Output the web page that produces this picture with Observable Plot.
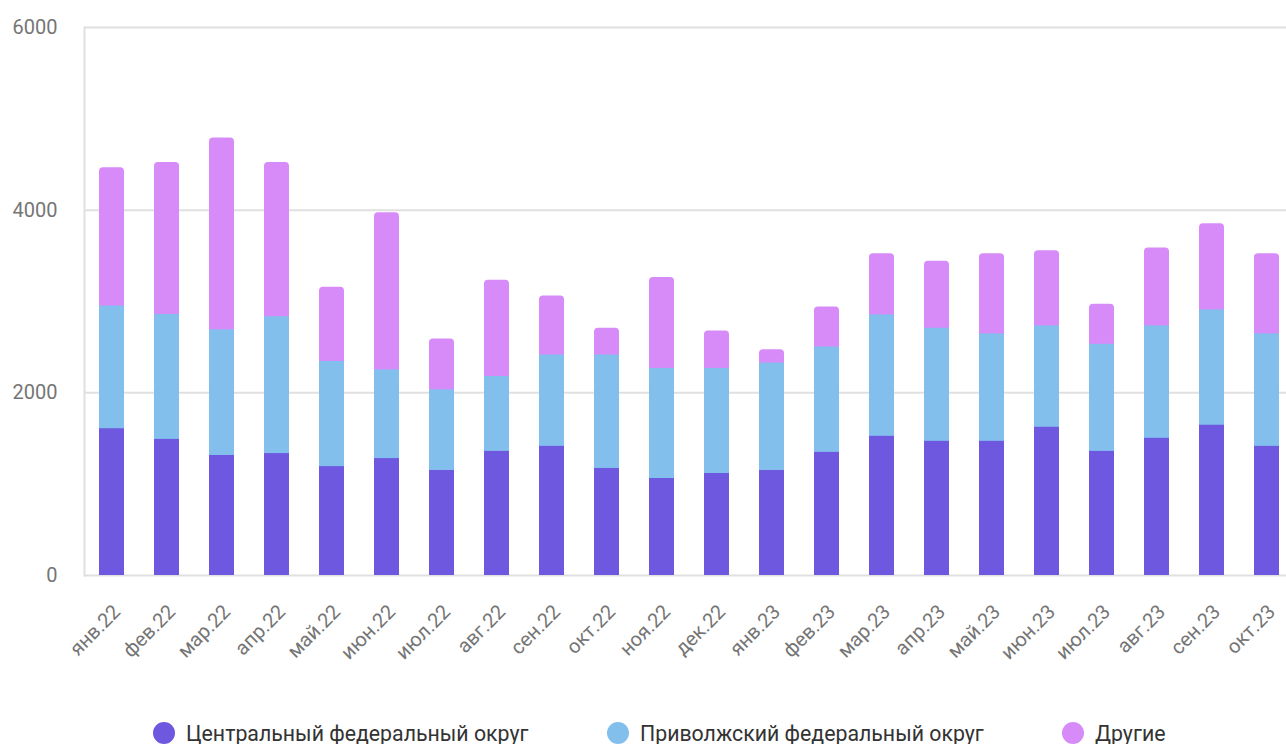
<!DOCTYPE html>
<html>
<head>
<meta charset="utf-8">
<script src="https://cdn.jsdelivr.net/npm/d3@7"></script>
<script src="https://cdn.jsdelivr.net/npm/@observablehq/plot@0.6"></script>
<style>
  html, body { margin: 0; padding: 0; background: #fff; }
  #chart svg { display: block; }
  .legend { position: relative; margin-top: 42px; height: 22px;
            font-family: Roboto, sans-serif; font-size: 21.3px; color: #333; }
  .legend .item { position: absolute; top: 0; display: flex; align-items: center; height: 22px; white-space: nowrap; }
  .legend .dot { width: 22px; height: 22px; border-radius: 50%; margin-right: 11px; flex: none; }
</style>
</head>
<body>
<div id="chart"></div>
<script>
const months = ["янв.22","фев.22","мар.22","апр.22","май.22","июн.22","июл.22","авг.22","сен.22","окт.22","ноя.22","дек.22","янв.23","фев.23","мар.23","апр.23","май.23","июн.23","июл.23","авг.23","сен.23","окт.23"];
const central = [1607,1490,1314,1335,1192,1280,1150,1359,1414,1172,1062,1117,1150,1348,1524,1469,1469,1623,1359,1502,1645,1414];
const volga   = [1343,1368,1376,1498,1151,971,883,820,1000,1242,1205,1150,1176,1154,1329,1238,1176,1110,1172,1231,1263,1231];
const others  = [1514,1665,2101,1690,812,1720,557,1055,645,293,997,411,147,439,671,733,879,824,440,853,942,879];
const seriesNames = ["Центральный федеральный округ","Приволжский федеральный округ","Другие"];
const colors = ["#6e58e0","#83bfed","#d78bf9"];
const yTicks = [0,2000,4000,6000];
const legendLefts = [153, 607, 1062];

const rows = months.map((m, i) => ({
  month: m,
  c: central[i],
  cv: central[i] + volga[i],
  total: central[i] + volga[i] + others[i]
}));

const chart = Plot.plot({
  width: 1286,
  height: 680,
  marginLeft: 84,
  marginRight: 0,
  marginTop: 27,
  marginBottom: 105,
  style: { fontFamily: "Roboto, sans-serif", fontSize: "20px", color: "#757575", background: "#fff" },
  x: { domain: months, paddingInner: 0.55, paddingOuter: 0.175, align: 0.68, label: null, axis: null },
  y: { domain: [0, 6000], label: null, axis: null },
  marks: [
    Plot.ruleY(yTicks, { stroke: "#e0e0e0", strokeWidth: 2 }),
    Plot.frame({ anchor: "left", stroke: "#e0e0e0", strokeWidth: 2 }),
    Plot.barY(rows, { x: "month", y: "total", fill: colors[2], rx: 4 }),
    Plot.barY(rows, { x: "month", y: "cv", fill: colors[1] }),
    Plot.barY(rows, { x: "month", y: "c", fill: colors[0] }),
    Plot.axisY({ ticks: yTicks, tickFormat: d3.format("d"), tickSize: 0, tickPadding: 27, label: null, fontSize: 20 }),
    Plot.text(months, { x: d => d, frameAnchor: "bottom", rotate: -45, textAnchor: "end", lineAnchor: "middle",
                        dx: 5, dy: 33, fontSize: 20, fill: "#757575" })
  ]
});
document.getElementById("chart").appendChild(chart);

const legend = document.createElement("div");
legend.className = "legend";
seriesNames.forEach((name, i) => {
  const item = document.createElement("div");
  item.className = "item";
  item.style.left = legendLefts[i] + "px";
  const dot = document.createElement("span");
  dot.className = "dot";
  dot.style.background = colors[i];
  const label = document.createElement("span");
  label.textContent = name;
  item.appendChild(dot);
  item.appendChild(label);
  legend.appendChild(item);
});
document.body.appendChild(legend);
</script>
</body>
</html>
